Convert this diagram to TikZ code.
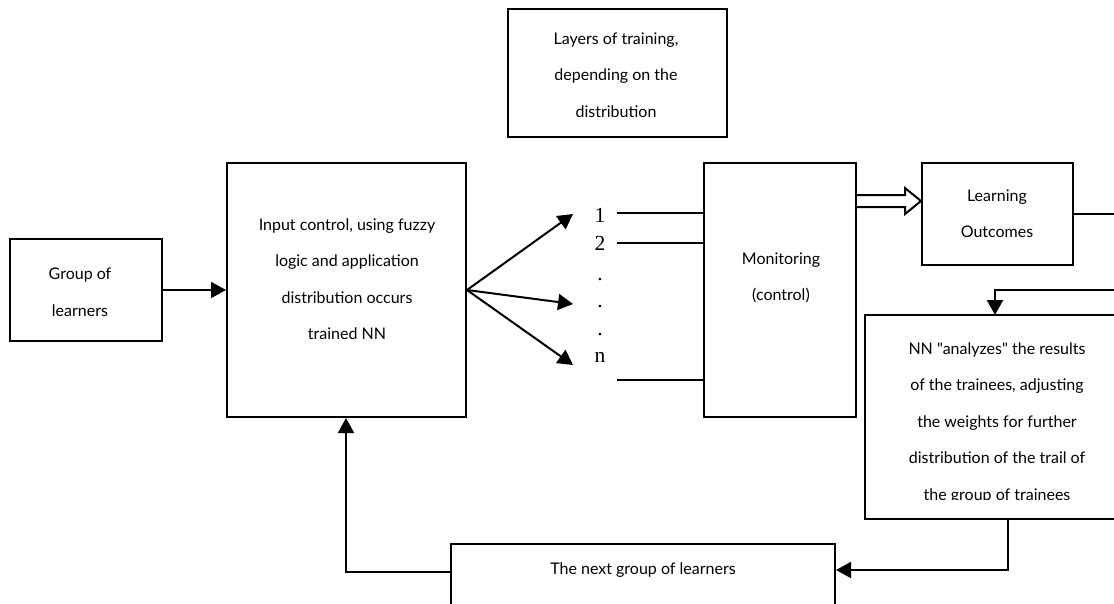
\documentclass[tikz,border=0pt]{standalone}
\usepackage{fontspec}
\setmainfont{Lato}[Ligatures=TeXOff]
\newfontfamily\numfont{Liberation Serif}
\usetikzlibrary{arrows.meta,calc}
\begin{document}
\begin{tikzpicture}[x=1pt,y=-1pt,
  box/.style={draw, line width=2pt, rectangle, inner sep=0pt},
  txt/.style={align=center, font=\fontsize{16}{36.5}\selectfont, inner sep=0pt},
  num/.style={font=\numfont\fontsize{21.5}{21.5}\selectfont, inner sep=0pt, anchor=base},
  conn/.style={line width=2pt},
  arr/.style={conn, -{Triangle[length=15pt,width=16pt]}},
]
\clip (0,0) rectangle (1114,603);
\fill[white] (0,0) rectangle (1114,603);

% boxes
\node[box, minimum width=152, minimum height=102] (grp) at (86,290) {};
\node[txt] (grpT) at (80,292) {Group of\\learners};

\node[box, minimum width=239, minimum height=254] (inp) at (346.5,290) {};
\node[txt] (inpT) at (347,279) {Input control, using fuzzy\\logic and application\\distribution occurs\\trained NN};

\node[box, minimum width=219, minimum height=128] (lay) at (617.5,73) {};
\node[txt] (layT) at (616,75) {Layers of training,\\depending on the\\distribution};

\node[box, minimum width=152, minimum height=254] (mon) at (780,290) {};
\node[txt] (monT) at (781,278) {Monitoring\\(control)};

\node[box, minimum width=151, minimum height=102] (lo) at (997.5,214) {};
\node[txt] (loT) at (997,213.5) {Learning\\Outcomes};

\node[box, minimum width=270, minimum height=204] (nn) at (1000,417) {};
\begin{scope}
  \clip (866,320) rectangle (1114,499);
  \node[txt] (nnT) at (997,423) {NN "analyzes" the results\\of the trainees, adjusting\\the weights for further\\distribution of the trail of\\the group of trainees};
\end{scope}

\node[box, minimum width=384, minimum height=80] (nxt) at (643,584) {};
\node[txt] (nxtT) at (643,570) {The next group of learners};

% layer labels
\node[num] (n1) at (600,222) {1};
\node[num] (n2) at (600,250) {2};
\node[num] (d1) at (600,280) {.};
\node[num] (d2) at (600,307) {.};
\node[num] (d3) at (600,335) {.};
\node[num] (nn1) at (600,362) {n};

% fan arrows
\coordinate (t1) at (573,214);
\coordinate (t2) at (573,304);
\coordinate (t3) at (573,365);
\draw[arr] (inp.east) -- (t1);
\draw[arr] (inp.east) -- (t2);
\draw[arr] (inp.east) -- (t3);

% lines into monitoring
\coordinate (l1) at (617,213);
\coordinate (l2) at (617,243);
\coordinate (l3) at (617,380);
\draw[conn] (l1) -- (l1 -| mon.west);
\draw[conn] (l2) -- (l2 -| mon.west);
\draw[conn] (l3) -- (l3 -| mon.west);

% group -> input
\draw[arr] (grp.east) -- (inp.west);

% hollow arrow monitoring -> learning outcomes
\draw[conn, fill=white, line join=miter]
  (mon.east |- 0,195) -- (905,195) -- (905,188) -- ($(lo.west)+(0,-13)$)
  -- (905,214) -- (905,207) -- (mon.east |- 0,207);

% learning outcomes -> NN
\draw[arr] (lo.east) -- (lo.east -| 1125,0) -- (1125,290) -- (995,290) -- (995,315);

% NN -> next group
\draw[arr] (1008,519) -- (1008,570) -- (nxt.east |- 0,570);

% next group -> input
\draw[arr] (nxt.west |- 0,572) -- (346,572) -- (inp.south -| 346,0);
\end{tikzpicture}
\end{document}
